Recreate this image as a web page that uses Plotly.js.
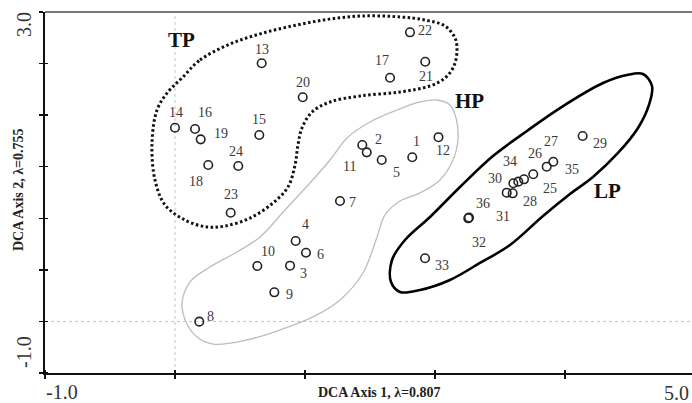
<!DOCTYPE html>
<html>
<head>
<meta charset="utf-8">
<script src="https://cdn.plot.ly/plotly-3.0.1.min.js"></script>
<style>html,body{margin:0;padding:0;background:#fff;}#chart{width:692px;height:403px;}</style>
</head>
<body>
<div id="chart"></div>
<script>
// ---- Data (DCA site scores) ----
const siteIds = [1,2,3,4,5,6,7,8,9,10,11,12,13,14,15,16,17,18,19,20,21,22,23,24,25,26,27,28,29,30,31,32,33,34,35,36];
const axis1 = [2.390,1.929,1.262,1.314,2.108,1.409,1.723,0.424,1.117,0.960,1.970,2.632,
               1.000,0.200,0.978,0.385,2.185,0.507,0.437,1.379,2.510,2.369,0.714,0.784,
               3.422,3.507,3.692,3.317,3.963,3.323,3.262,2.907,2.508,3.369,3.631,2.914];
const axis2 = [1.390,1.526,0.189,0.463,1.360,0.333,0.906,-0.431,-0.106,0.186,1.445,1.613,
               2.432,1.718,1.637,1.704,2.272,1.305,1.589,2.055,2.449,2.775,0.776,1.294,
               1.146,1.202,1.341,0.991,1.626,1.102,0.998,0.714,0.271,1.120,1.286,0.723];

// Group envelopes (data units)
const tpX = [0.265,0.431,0.708,1.012,1.326,1.631,1.935,2.277,2.508,2.692,2.785,2.803,2.775,2.692,2.554,2.277,1.908,1.631,1.465,1.372,1.335,1.308,1.243,1.105,0.892,0.662,0.495,0.292,0.108,0.015,-0.012,0.034,0.135,0.265];
const tpY = [2.269,2.468,2.645,2.767,2.856,2.922,2.956,2.945,2.911,2.845,2.712,2.579,2.402,2.269,2.180,2.114,2.069,2.003,1.892,1.715,1.526,1.305,1.061,0.884,0.717,0.629,0.618,0.695,0.862,1.139,1.549,1.914,2.114,2.269];
const hpX = [1.788,2.000,2.249,2.462,2.618,2.738,2.794,2.812,2.766,2.646,2.462,2.277,2.138,2.065,1.935,1.723,1.474,1.169,0.865,0.551,0.403,0.302,0.265,0.338,0.523,0.772,0.985,1.215,1.446,1.631,1.788];
const hpY = [1.604,1.781,1.914,2.003,2.025,1.970,1.826,1.582,1.360,1.139,0.995,0.906,0.751,0.507,0.108,-0.191,-0.379,-0.523,-0.634,-0.679,-0.601,-0.435,-0.224,0.008,0.175,0.341,0.507,0.806,1.105,1.360,1.604];
const lpX = [4.520,4.603,4.575,4.474,4.289,4.058,3.846,3.597,3.292,3.015,2.738,2.462,2.277,2.194,2.203,2.323,2.554,2.831,3.135,3.449,3.754,4.151,4.372,4.520];
const lpY = [2.313,2.180,1.970,1.715,1.438,1.172,0.983,0.740,0.418,0.219,0.031,-0.080,-0.102,0.008,0.252,0.474,0.729,1.061,1.404,1.682,1.936,2.213,2.302,2.313];

const groupNames = ["TP","HP","LP"];
const xTitle = "DCA Axis 1, λ=0.807";
const yTitle = "DCA Axis 2, λ=0.755";
const xTickText = ["-1.0","5.0"];
const yTickText = ["3.0","-1.0"];

// ---- Layout helpers (pixel offsets of the site number labels) ----
const labelOffsets = {
  1:[4,-16],2:[16,-6],3:[13,8],4:[10,-16],5:[15,12],6:[15,2],7:[13,2],8:[11,-5],9:[15,2],10:[11,-14],
  11:[-17,14],12:[5,13],13:[0,-14],14:[1,-15],15:[0,-16],16:[10,-16],17:[-8,-17],18:[-12,17],19:[20,-6],
  20:[0,-15],21:[1,15],22:[15,-2],23:[0,-18],24:[-2,-14],25:[26,9],26:[2,-21],27:[-2,-20],28:[17,8],
  29:[17,7],30:[-18,-5],31:[-4,24],32:[11,24],33:[17,7],34:[-8,-20],35:[25,3],36:[14,-14]
};

const xMin = -1, xMax = -1 + 647*6/650, yMin = -1, yMax = 3;
const xTicks = [-1,0.2,1.4,2.6,3.8,5.0];
const yTicks = [0,1,2,3,4,5,6,7].map(k => -1 + k*4/7);
const serif = "Liberation Serif, Times New Roman, serif";

const traces = [
  {x: tpX, y: tpY, mode: "lines", line: {color: "#111", width: 3, dash: "2.5px,2.5px", shape: "spline", smoothing: 1.0}, hoverinfo: "skip"},
  {x: hpX, y: hpY, mode: "lines", line: {color: "#bdbdbd", width: 1.3, shape: "spline", smoothing: 1.0}, hoverinfo: "skip"},
  {x: lpX, y: lpY, mode: "lines", line: {color: "#000", width: 2.6, shape: "spline", smoothing: 1.0}, hoverinfo: "skip"},
  {x: axis1, y: axis2, mode: "markers", marker: {symbol: "circle-open", size: 8.5, color: "#222", line: {width: 1.6, color: "#222"}}, hoverinfo: "skip"}
];

const annotations = siteIds.map((id, i) => ({
  x: axis1[i], y: axis2[i], xref: "x", yref: "y", text: String(id), showarrow: false,
  xshift: labelOffsets[id][0], yshift: -labelOffsets[id][1],
  font: {family: serif, size: 14, color: "#3a3a3a"}
}));

// Group labels
const groupPos = [[181,40],[470,101],[607,191]];
groupNames.forEach((g, i) => {
  annotations.push({xref: "paper", yref: "paper",
    x: (groupPos[i][0]-45)/647, y: (373-groupPos[i][1])/361,
    text: "<b>"+g+"</b>", showarrow: false, xanchor: "center", yanchor: "middle",
    font: {family: serif, size: 21, color: "#111"}});
});

// Axis titles and end tick labels
annotations.push({xref: "paper", yref: "paper", x: (379-45)/647, y: (373-392)/361, text: "<b>"+xTitle+"</b>",
  showarrow: false, xanchor: "center", yanchor: "middle", font: {family: serif, size: 14, color: "#222"}});
annotations.push({xref: "paper", yref: "paper", x: (19-45)/647, y: (373-190)/361, text: "<b>"+yTitle+"</b>",
  showarrow: false, textangle: -90, xanchor: "center", yanchor: "middle", font: {family: serif, size: 14, color: "#222"}});
annotations.push({xref: "paper", yref: "paper", x: (62-45)/647, y: (373-392)/361, text: xTickText[0],
  showarrow: false, xanchor: "center", yanchor: "middle", font: {family: serif, size: 20, color: "#333"}});
annotations.push({xref: "paper", yref: "paper", x: (676-45)/647, y: (373-393)/361, text: xTickText[1],
  showarrow: false, xanchor: "center", yanchor: "middle", font: {family: serif, size: 20, color: "#333"}});
annotations.push({xref: "paper", yref: "paper", x: (24-45)/647, y: (373-25)/361, text: yTickText[0], textangle: -90,
  showarrow: false, xanchor: "center", yanchor: "middle", font: {family: serif, size: 20, color: "#333"}});
annotations.push({xref: "paper", yref: "paper", x: (24-45)/647, y: (373-352)/361, text: yTickText[1], textangle: -90,
  showarrow: false, xanchor: "center", yanchor: "middle", font: {family: serif, size: 20, color: "#333"}});

const shapes = [
  {type: "line", xref: "x", yref: "paper", x0: xTicks[1], x1: xTicks[1], y0: 0, y1: 1, line: {color: "#c4c4c4", width: 1, dash: "dot"}, layer: "below"},
  {type: "line", xref: "paper", yref: "y", x0: 0, x1: 1, y0: yTicks[1], y1: yTicks[1], line: {color: "#c4c4c4", width: 1, dash: "dot"}, layer: "below"},
  {type: "line", xref: "paper", yref: "paper", x0: 0, x1: 1, y0: 1, y1: 1, line: {color: "#777", width: 2}}
];

const layout = {
  width: 692, height: 403,
  margin: {l: 45, r: 0, t: 12, b: 30, pad: 0},
  paper_bgcolor: "#fff", plot_bgcolor: "#fff",
  showlegend: false,
  xaxis: {range: [xMin, xMax], tickmode: "array", tickvals: xTicks, showticklabels: false,
    ticks: "outside", ticklen: 4, tickwidth: 1.5, tickcolor: "#111",
    minor: {tickmode: "array", tickvals: xTicks.map(v => v + 1e-9), ticks: "inside", ticklen: 3, tickwidth: 1.5, tickcolor: "#111"},
    showgrid: false, zeroline: false, showline: true, linecolor: "#111", linewidth: 2, fixedrange: true},
  yaxis: {range: [yMin, yMax], tickmode: "array", tickvals: yTicks, showticklabels: false,
    ticks: "outside", ticklen: 4, tickwidth: 1.5, tickcolor: "#111",
    minor: {tickmode: "array", tickvals: yTicks.map(v => v + 1e-9), ticks: "inside", ticklen: 3, tickwidth: 1.5, tickcolor: "#111"},
    showgrid: false, zeroline: false, showline: true, linecolor: "#111", linewidth: 2, fixedrange: true},
  annotations: annotations,
  shapes: shapes,
  hovermode: false
};

Plotly.newPlot("chart", traces, layout, {displayModeBar: false, staticPlot: true});
</script>
</body>
</html>
